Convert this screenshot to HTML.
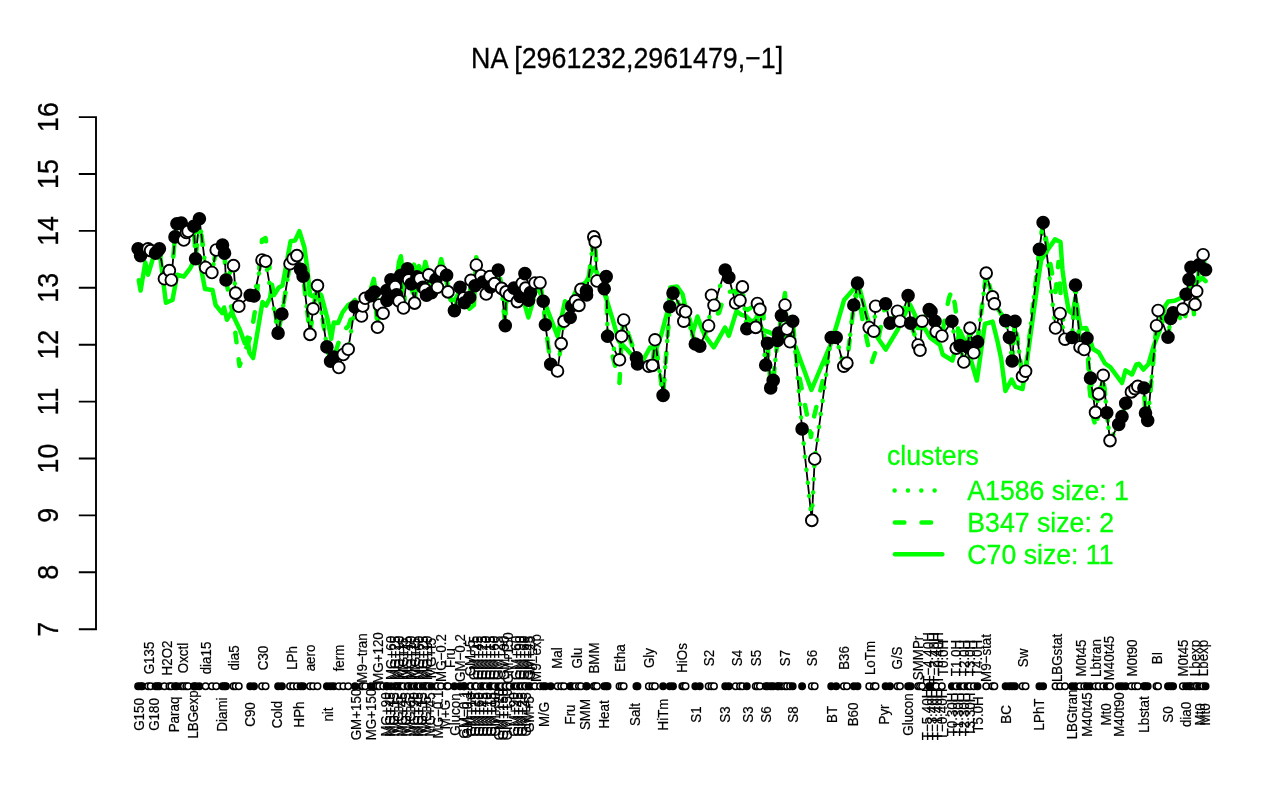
<!DOCTYPE html>
<html><head><meta charset="utf-8"><title>NA [2961232,2961479,-1]</title>
<style>html,body{margin:0;padding:0;background:#fff;}svg{display:block;}text{font-family:"Liberation Sans",sans-serif;}.m{font-size:28.9px;stroke:#000;stroke-width:0.3px;}.l{font-size:28.2px;stroke:#00ff00;stroke-width:0.3px;}.x{font-size:14.4px;stroke:#000;stroke-width:0.2px;}.g{fill:none;stroke:#00ff00;stroke-width:4.5;stroke-linecap:round;stroke-linejoin:round;}.p circle{stroke:#000;stroke-width:1.9;}.r circle{stroke:#000;stroke-width:1.5;}.o{fill:#fff;}.f{fill:#000;}</style></head><body>
<svg style="will-change:transform" width="1280" height="800" viewBox="0 0 1280 800">
<rect width="1280" height="800" fill="#fff"/>
<text class="m" transform="translate(627.1 67.7) scale(0.927 1)" text-anchor="middle">NA [2961232,2961479,−1]</text>
<g stroke="#000" stroke-width="1.9" fill="none" stroke-linecap="butt">
<path d="M96 116.2L96 630.2M78.8 629.2L96 629.2M78.8 572.3L96 572.3M78.8 515.4L96 515.4M78.8 458.5L96 458.5M78.8 401.6L96 401.6M78.8 344.7L96 344.7M78.8 287.8L96 287.8M78.8 230.9L96 230.9M78.8 174L96 174M78.8 117.1L96 117.1"/>
</g>
<text class="m" transform="translate(58.4 629.2) rotate(-90) scale(0.927 1)" text-anchor="middle">7</text>
<text class="m" transform="translate(58.4 572.3) rotate(-90) scale(0.927 1)" text-anchor="middle">8</text>
<text class="m" transform="translate(58.4 515.4) rotate(-90) scale(0.927 1)" text-anchor="middle">9</text>
<text class="m" transform="translate(58.4 458.5) rotate(-90) scale(0.927 1)" text-anchor="middle">10</text>
<text class="m" transform="translate(58.4 401.6) rotate(-90) scale(0.927 1)" text-anchor="middle">11</text>
<text class="m" transform="translate(58.4 344.7) rotate(-90) scale(0.927 1)" text-anchor="middle">12</text>
<text class="m" transform="translate(58.4 287.8) rotate(-90) scale(0.927 1)" text-anchor="middle">13</text>
<text class="m" transform="translate(58.4 230.9) rotate(-90) scale(0.927 1)" text-anchor="middle">14</text>
<text class="m" transform="translate(58.4 174) rotate(-90) scale(0.927 1)" text-anchor="middle">15</text>
<text class="m" transform="translate(58.4 117.1) rotate(-90) scale(0.927 1)" text-anchor="middle">16</text>
<path class="g" d="M138.8 280.3L140.6 290.6L145.3 262.5L148.1 274.7L152.8 258.8L157 250L160.3 256.9L165.9 302.8L172.5 300L177.2 274.7L183.8 276.6L190.3 268.1L195 258.8L198.5 259L201 268L205 289L212.5 290L215.6 305L222.2 313.1L224.1 307.5L226.9 319.7L231.6 312.2L240 330L244.7 343.1L247.5 337.5L249.4 352.5L253.1 358.1L262.5 302L266.2 305.6L270 298L272 285L274 295L278.8 287.5L282.5 285.6L290.6 241.2L295 240.6L299.4 231.2L304.4 247.5L307.5 270L310 295L312.5 296.2L317.5 292.5L321.2 295L327.5 318.8L331.2 338.8L333.8 322.5L338.1 323.1L342.5 312.5L348.1 305L352 303L355 300L358 306L362 312L366 300L370 292L373.8 278.8L377 300L380 305L384 300L388 290L392 280L396 285L399 262L400.9 256.2L404 285L408 275L411 270L414 264.7L416.5 272L419 266L422 280L425.3 261.9L428 272L432 285L436 280L441.2 259.1L445 275L450.6 299.4L455 300L460 290L465 300L469.4 308.8L474 305L476.3 257.2L480 275L485 285L490 280L495 285L500.3 278.8L505 305L510 295L515 290L520 298L524 302L528.4 317.5L532.5 303L536 285L543.8 300L557.5 336.2L565 301.2L570 305L576.2 290L586 282L592.5 270L595 267.5L606.2 298.5L612.5 318.8L618.8 341.2L627.5 350L631.9 355L637 360L643.8 358.8L650 347.5L656.2 348.8L661.2 335L666.2 316.2L668.8 307.5L670.2 287.5L677 286.4L682.6 294.2L687 315L690 320L692.5 334L697.4 316.5L702.7 331L706.2 337.5L713.8 347.3L720.9 334.8L725 327.5L728.8 335.8L736.5 311.2L741.5 314.8L746 316L752 322L757 318L762.5 330L770 332.5L778 338L787 335L796 347.9L811.4 390L831 343.5L837.5 322.5L844.1 299.9L854.2 288.6L857.6 283L860 290L867 317L872.2 330.2L877.5 337.5L885.7 349.6L897.5 330L906.1 311.5L910.2 305L915 315L917.5 328L924.5 328L930.5 338L940 345L942.7 354.5L952.4 360.5L960 331L966.8 346L976.9 380.5L984.9 324L992.6 321.6L997.5 341.2L1001.2 358.8L1005.4 391L1011.6 379.6L1015.5 386.8L1022.5 389L1027.2 359L1037.4 285L1041.2 260L1045.5 253L1055 239.4L1060.5 242L1062.5 270L1065.3 291L1068.8 311L1072.5 313.8L1075.4 298L1080.5 328.5L1086.2 328L1093 349L1098.8 352.5L1105 363.5L1110.3 367.2L1122 383L1125.5 370.3L1132 374.5L1136.4 364.5L1138.8 363.8L1143.5 369.5L1148.5 364L1154 345L1159.6 331L1165 306.3L1168.2 301.5L1174.7 300.7L1183 297L1191 286.9L1199.1 280.4L1202.3 277.9L1205.6 281.2"/>
<path class="g" stroke-width="4" stroke-dasharray="9.6 17.1" d="M138.1 248.8L140.6 255.6L142.3 252L148.1 248.8L150.6 250.6L155.6 253.1L157.5 251L159.4 248.8L164.4 278.8L169.4 270.6L171.3 280L175 236.9L176.9 223.8L181.3 223.1L183.8 240L186.3 232.5L188.1 231.3L193.8 226.3L195.6 258.8L199.4 218.8L205.6 267.5L211.9 272.5L216.2 250L222.5 245L224.5 253.1L226 280L233.5 318L239.5 366L251 335L256 305L262 240L265.6 238L278.1 333.1L281.9 314L290 263.8L293.1 258.8L296.9 255.6L300.6 269.4L303.1 276.3L310 334.4L313.1 308.8L317.5 285.6L326.9 346.9L330.6 361.3L333.8 357L338.8 342L343 331L348.5 326L355 306.9L361.5 316L362.8 306L365.2 298.3L371 295.6L374.6 292L377.5 327.3L379.2 305L383.1 313.3L386.7 290.6L386.9 300.4L390.9 279.8L395.2 286.6L396.6 294.8L399 301L400.6 275.5L403.5 308L407.5 268.8L408.6 279.8L411.2 284L414.6 303.1L416.9 276.9L420 278.8L422.8 287.3L425.2 289.5L426.5 295.3L428.7 274.8L431.5 292.6L436 279.2L437.5 287.3L441 271.2L446.6 275.3L448 291.9L454.4 310.6L460 287.3L463.8 297.8L464.4 302.8L469.7 297.5L471 280.3L475 285.8L476.3 265L481 275.7L483 282L486.2 294L490 276.6L490.6 286.9L494.5 283.6L498.2 270.1L501.6 288.4L505.3 325.6L506 291.9L509.5 295.3L514 288.1L517.3 301.6L520 296.4L522.2 283.2L524.9 273.6L525.6 288.1L528.6 300.1L530.5 292.6L535 283L540 282.7L543.2 301.2L545.4 324.8L550.7 364.2L557.5 371L561.2 343.6L564 321.3L570.2 317.5L571.7 306L575.5 300.9L578.9 305.4L581 289.3L586.4 290.8L586.6 295L593.8 236.9L595.2 241.9L597 281L604.2 288.7L606.2 276.6L607.6 336.3L619.5 383L621.6 336.3L623.7 320L636.4 357.7L637.5 363.9L648.8 366.3L652.4 365.4L655 339.8L663.1 395.4L669.8 306.8L673 293.1L682.3 310.3L683.8 321.2L685.6 311.8L695.3 344L699.8 346.1L708.6 325.7L714 315L719 313L723 300L727 292L735 291L741 300L747.5 310L752 307L758 300L763 305L765.7 365L767.5 343.2L770.7 387.9L773.2 380.4L777.5 340.5L778.6 333L781.4 315.6L785 293L787 329L790 341.8L792.7 321.2L797 365L804 400L808 420L811 437L813.5 419L820 392L826 367L831.2 337.5L836.2 337.5L843.8 366.2L846.9 363.1L853.8 305L857.5 290L863 322L868 345L872 362L876 350L885.6 303.8L890 323.1L897.5 311.2L900 321.2L908.1 295.6L910.6 323.1L918.1 345L920 350.3L922.1 321.2L929.2 309.6L931 311.4L935 321.2L936.2 331.6L941.9 336L946 312L949 298L952 290L955 305L960 345.6L963.8 362L967.5 347L970 328.1L973.8 352.8L977.5 341.9L986.2 273.1L992.5 296.9L994.4 303.8L1005.6 320.6L1009.4 337.5L1012.2 361L1015 321.2L1022.5 376.2L1025.6 371.2L1039.4 249.4L1043.1 222.5L1050 262L1055.5 292L1058.5 262L1061 300L1065 337L1072 337.5L1075.5 285.1L1080 347L1084.2 349.5L1087 338.2L1089.5 388L1091 402L1093.5 419L1096.5 429L1099 405L1103.2 375.3L1106.8 412.8L1110 440.6L1118.7 424.4L1122 416.6L1125.7 403.2L1131.4 391.9L1135 388.7L1137.8 386.3L1143.9 388L1145.5 413L1147.7 420.5L1156.5 325.7L1158.1 310.5L1168 337.2L1170.7 318.5L1173.1 312.8L1178 316L1181 319L1184 325L1188 298L1191 284L1194.5 319L1197 296L1199.1 264.9L1203.1 254.7L1205.6 269.8"/>
<path fill="none" stroke="#000" stroke-width="1.8" stroke-linejoin="round" d="M138.1 248.8L140.6 255.6L142.3 252L148.1 248.8L150.6 250.6L155.6 253.1L157.5 251L159.4 248.8L164.4 278.8L169.4 270.6L171.3 280L175 236.9L176.9 223.8L181.3 223.1L183.8 240L186.3 232.5L188.1 231.3L193.8 226.3L195.6 258.8L199.4 218.8L205.6 267.5L211.9 272.5L216.2 250L222.5 245L224.5 253.1L226 280L233.5 265.6L235.6 293.1L238.8 306.3L250.2 295.3L254 296L262 260L265.6 261.3L278.1 333.1L281.9 314L290 263.8L293.1 258.8L296.9 255.6L300.6 269.4L303.1 276.3L310 334.4L313.1 308.8L317.5 285.6L326.9 346.9L330.6 361.3L333.8 357L338.8 367.5L343.3 354.5L348.2 349.3L355 306.9L361.5 316L362.8 306L365.2 298.3L371 295.6L374.6 292L377.5 327.3L379.2 305L383.1 313.3L386.7 290.6L386.9 300.4L390.9 279.8L395.2 286.6L396.6 294.8L399 301L400.6 275.5L403.5 308L407.5 268.8L408.6 279.8L411.2 284L414.6 303.1L416.9 276.9L420 278.8L422.8 287.3L425.2 289.5L426.5 295.3L428.7 274.8L431.5 292.6L436 279.2L437.5 287.3L441 271.2L446.6 275.3L448 291.9L454.4 310.6L460 287.3L463.8 297.8L464.4 302.8L469.7 297.5L471 280.3L475 285.8L476.3 265L481 275.7L483 282L486.2 294L490 276.6L490.6 286.9L494.5 283.6L498.2 270.1L501.6 288.4L505.3 325.6L506 291.9L509.5 295.3L514 288.1L517.3 301.6L520 296.4L522.2 283.2L524.9 273.6L525.6 288.1L528.6 300.1L530.5 292.6L535 283L540 282.7L543.2 301.2L545.4 324.8L550.7 364.2L557.5 371L561.2 343.6L564 321.3L570.2 317.5L571.7 306L575.5 300.9L578.9 305.4L581 289.3L586.4 290.8L586.6 295L593.8 236.9L595.2 241.9L597 281L604.2 288.7L606.2 276.6L607.6 336.3L619.5 359.8L621.6 336.3L623.7 320L636.4 357.7L637.5 363.9L648.8 366.3L652.4 365.4L655 339.8L663.1 395.4L669.8 306.8L673 293.1L682.3 310.3L683.8 321.2L685.6 311.8L695.3 344L699.8 346.1L708.6 325.7L711.5 295.2L714 305.2L725.2 270L728.8 277.4L735.6 303L740 300.5L742.4 286.9L746.8 328.7L755.7 327.4L757.4 303.5L759.9 309.4L765.7 365L767.5 343.2L770.7 387.9L773.2 380.4L777.5 340.5L778.6 333L781.4 315.6L785 305L787 329L790 341.8L792.7 321.2L802.1 428.9L811.8 520.4L814.7 459L831.2 337.5L836.2 337.5L843.8 366.2L846.9 363.1L853.8 305L857.5 283.1L869.2 327.5L873.8 331.2L875.6 306.2L885.6 303.8L890 323.1L897.5 311.2L900 321.2L908.1 295.6L910.6 323.1L918.1 345L920 350.3L922.1 321.2L929.2 309.6L931 311.4L935 321.2L936.2 331.6L941.9 336L951.9 321.2L956.2 348.1L960 345.6L963.8 362L967.5 347L970 328.1L973.8 352.8L977.5 341.9L986.2 273.1L992.5 296.9L994.4 303.8L1005.6 320.6L1009.4 337.5L1012.2 361L1015 321.2L1022.5 376.2L1025.6 371.2L1039.4 249.4L1043.1 222.5L1055.5 328L1060.1 313.5L1065 339.2L1072 337.5L1075.5 285.1L1080 347L1084.2 349.5L1087 338.2L1090.5 378.1L1095.5 412.4L1098.6 393.9L1103.2 375.3L1106.8 412.8L1110 440.6L1118.7 424.4L1122 416.6L1125.7 403.2L1131.4 391.9L1135 388.7L1137.8 386.3L1143.9 388L1145.5 413L1147.7 420.5L1156.5 325.7L1158.1 310.5L1168 337.2L1170.7 318.5L1173.1 312.8L1182.8 309.1L1186.1 294.2L1189 279.5L1191 267.4L1195 304.4L1196.7 291.2L1199.1 264.9L1203.1 254.7L1205.6 269.8"/>
<path class="g" stroke-width="4.2" stroke-dasharray="0.01 13.15" d="M138.1 248.8L140.6 255.6L142.3 252L148.1 248.8L150.6 250.6L155.6 253.1L157.5 251L159.4 248.8L164.4 278.8L169.4 270.6L171.3 280L175 236.9L176.9 223.8L181.3 223.1L183.8 240L186.3 232.5L188.1 231.3L193.8 226.3L195.6 258.8L199.4 218.8L205.6 267.5L211.9 272.5L216.2 250L222.5 245L224.5 253.1L226 280L233.5 265.6L235.6 293.1L238.8 306.3L250.2 295.3L254 296L262 260L265.6 261.3L278.1 333.1L281.9 314L290 263.8L293.1 258.8L296.9 255.6L300.6 269.4L303.1 276.3L310 334.4L313.1 308.8L317.5 285.6L326.9 346.9L330.6 361.3L333.8 357L338.8 367.5L343.3 354.5L348.2 349.3L355 306.9L361.5 316L362.8 306L365.2 298.3L371 295.6L374.6 292L377.5 327.3L379.2 305L383.1 313.3L386.7 290.6L386.9 300.4L390.9 279.8L395.2 286.6L396.6 294.8L399 301L400.6 275.5L403.5 308L407.5 268.8L408.6 279.8L411.2 284L414.6 303.1L416.9 276.9L420 278.8L422.8 287.3L425.2 289.5L426.5 295.3L428.7 274.8L431.5 292.6L436 279.2L437.5 287.3L441 271.2L446.6 275.3L448 291.9L454.4 310.6L460 287.3L463.8 297.8L464.4 302.8L469.7 297.5L471 280.3L475 285.8L476.3 265L481 275.7L483 282L486.2 294L490 276.6L490.6 286.9L494.5 283.6L498.2 270.1L501.6 288.4L505.3 325.6L506 291.9L509.5 295.3L514 288.1L517.3 301.6L520 296.4L522.2 283.2L524.9 273.6L525.6 288.1L528.6 300.1L530.5 292.6L535 283L540 282.7L543.2 301.2L545.4 324.8L550.7 364.2L557.5 371L561.2 343.6L564 321.3L570.2 317.5L571.7 306L575.5 300.9L578.9 305.4L581 289.3L586.4 290.8L586.6 295L593.8 236.9L595.2 241.9L597 281L604.2 288.7L606.2 276.6L607.6 336.3L619.5 359.8L621.6 336.3L623.7 320L636.4 357.7L637.5 363.9L648.8 366.3L652.4 365.4L655 339.8L663.1 395.4L669.8 306.8L673 293.1L682.3 310.3L683.8 321.2L685.6 311.8L695.3 344L699.8 346.1L708.6 325.7L711.5 295.2L714 305.2L725.2 270L728.8 277.4L735.6 303L740 300.5L742.4 286.9L746.8 328.7L755.7 327.4L757.4 303.5L759.9 309.4L765.7 365L767.5 343.2L770.7 387.9L773.2 380.4L777.5 340.5L778.6 333L781.4 315.6L785 305L787 329L790 341.8L792.7 321.2L802.1 428.9L811.8 520.4L814.7 459L831.2 337.5L836.2 337.5L843.8 366.2L846.9 363.1L853.8 305L857.5 283.1L869.2 327.5L873.8 331.2L875.6 306.2L885.6 303.8L890 323.1L897.5 311.2L900 321.2L908.1 295.6L910.6 323.1L918.1 345L920 350.3L922.1 321.2L929.2 309.6L931 311.4L935 321.2L936.2 331.6L941.9 336L951.9 321.2L956.2 348.1L960 345.6L963.8 362L967.5 347L970 328.1L973.8 352.8L977.5 341.9L986.2 273.1L992.5 296.9L994.4 303.8L1005.6 320.6L1009.4 337.5L1012.2 361L1015 321.2L1022.5 376.2L1025.6 371.2L1039.4 249.4L1043.1 222.5L1055.5 328L1060.1 313.5L1065 339.2L1072 337.5L1075.5 285.1L1080 347L1084.2 349.5L1087 338.2L1090.5 378.1L1095.5 412.4L1098.6 393.9L1103.2 375.3L1106.8 412.8L1110 440.6L1118.7 424.4L1122 416.6L1125.7 403.2L1131.4 391.9L1135 388.7L1137.8 386.3L1143.9 388L1145.5 413L1147.7 420.5L1156.5 325.7L1158.1 310.5L1168 337.2L1170.7 318.5L1173.1 312.8L1182.8 309.1L1186.1 294.2L1189 279.5L1191 267.4L1195 304.4L1196.7 291.2L1199.1 264.9L1203.1 254.7L1205.6 269.8"/>
<g class="p">
<circle class="f" cx="138.1" cy="248.8" r="5.85"/>
<circle class="f" cx="140.6" cy="255.6" r="5.85"/>
<circle class="f" cx="142.3" cy="252" r="5.85"/>
<circle class="o" cx="148.1" cy="248.8" r="5.85"/>
<circle class="o" cx="150.6" cy="250.6" r="5.85"/>
<circle class="f" cx="155.6" cy="253.1" r="5.85"/>
<circle class="f" cx="157.5" cy="251" r="5.85"/>
<circle class="f" cx="159.4" cy="248.8" r="5.85"/>
<circle class="o" cx="164.4" cy="278.8" r="5.85"/>
<circle class="o" cx="169.4" cy="270.6" r="5.85"/>
<circle class="o" cx="171.3" cy="280" r="5.85"/>
<circle class="f" cx="175" cy="236.9" r="5.85"/>
<circle class="f" cx="176.9" cy="223.8" r="5.85"/>
<circle class="f" cx="181.3" cy="223.1" r="5.85"/>
<circle class="o" cx="183.8" cy="240" r="5.85"/>
<circle class="o" cx="186.3" cy="232.5" r="5.85"/>
<circle class="o" cx="188.1" cy="231.3" r="5.85"/>
<circle class="f" cx="193.8" cy="226.3" r="5.85"/>
<circle class="f" cx="195.6" cy="258.8" r="5.85"/>
<circle class="f" cx="199.4" cy="218.8" r="5.85"/>
<circle class="o" cx="205.6" cy="267.5" r="5.85"/>
<circle class="o" cx="211.9" cy="272.5" r="5.85"/>
<circle class="o" cx="216.2" cy="250" r="5.85"/>
<circle class="f" cx="222.5" cy="245" r="5.85"/>
<circle class="f" cx="224.5" cy="253.1" r="5.85"/>
<circle class="f" cx="226" cy="280" r="5.85"/>
<circle class="o" cx="233.5" cy="265.6" r="5.85"/>
<circle class="o" cx="235.6" cy="293.1" r="5.85"/>
<circle class="o" cx="238.8" cy="306.3" r="5.85"/>
<circle class="f" cx="250.2" cy="295.3" r="5.85"/>
<circle class="f" cx="254" cy="296" r="5.85"/>
<circle class="o" cx="262" cy="260" r="5.85"/>
<circle class="o" cx="265.6" cy="261.3" r="5.85"/>
<circle class="f" cx="278.1" cy="333.1" r="5.85"/>
<circle class="f" cx="281.9" cy="314" r="5.85"/>
<circle class="o" cx="290" cy="263.8" r="5.85"/>
<circle class="o" cx="293.1" cy="258.8" r="5.85"/>
<circle class="o" cx="296.9" cy="255.6" r="5.85"/>
<circle class="f" cx="300.6" cy="269.4" r="5.85"/>
<circle class="f" cx="303.1" cy="276.3" r="5.85"/>
<circle class="o" cx="310" cy="334.4" r="5.85"/>
<circle class="o" cx="313.1" cy="308.8" r="5.85"/>
<circle class="o" cx="317.5" cy="285.6" r="5.85"/>
<circle class="f" cx="326.9" cy="346.9" r="5.85"/>
<circle class="f" cx="330.6" cy="361.3" r="5.85"/>
<circle class="f" cx="333.8" cy="357" r="5.85"/>
<circle class="o" cx="338.8" cy="367.5" r="5.85"/>
<circle class="o" cx="343.3" cy="354.5" r="5.85"/>
<circle class="o" cx="348.2" cy="349.3" r="5.85"/>
<circle class="f" cx="355" cy="306.9" r="5.85"/>
<circle class="o" cx="361.5" cy="316" r="5.85"/>
<circle class="o" cx="362.8" cy="306" r="5.85"/>
<circle class="o" cx="365.2" cy="298.3" r="5.85"/>
<circle class="f" cx="371" cy="295.6" r="5.85"/>
<circle class="f" cx="374.6" cy="292" r="5.85"/>
<circle class="o" cx="377.5" cy="327.3" r="5.85"/>
<circle class="o" cx="379.2" cy="305" r="5.85"/>
<circle class="o" cx="383.1" cy="313.3" r="5.85"/>
<circle class="f" cx="386.7" cy="290.6" r="5.85"/>
<circle class="f" cx="386.9" cy="300.4" r="5.85"/>
<circle class="f" cx="390.9" cy="279.8" r="5.85"/>
<circle class="o" cx="395.2" cy="286.6" r="5.85"/>
<circle class="f" cx="396.6" cy="294.8" r="5.85"/>
<circle class="o" cx="399" cy="301" r="5.85"/>
<circle class="f" cx="400.6" cy="275.5" r="5.85"/>
<circle class="o" cx="403.5" cy="308" r="5.85"/>
<circle class="f" cx="407.5" cy="268.8" r="5.85"/>
<circle class="o" cx="408.6" cy="279.8" r="5.85"/>
<circle class="f" cx="411.2" cy="284" r="5.85"/>
<circle class="o" cx="414.6" cy="303.1" r="5.85"/>
<circle class="f" cx="416.9" cy="276.9" r="5.85"/>
<circle class="o" cx="420" cy="278.8" r="5.85"/>
<circle class="f" cx="422.8" cy="287.3" r="5.85"/>
<circle class="o" cx="425.2" cy="289.5" r="5.85"/>
<circle class="f" cx="426.5" cy="295.3" r="5.85"/>
<circle class="o" cx="428.7" cy="274.8" r="5.85"/>
<circle class="f" cx="431.5" cy="292.6" r="5.85"/>
<circle class="f" cx="436" cy="279.2" r="5.85"/>
<circle class="o" cx="437.5" cy="287.3" r="5.85"/>
<circle class="o" cx="441" cy="271.2" r="5.85"/>
<circle class="f" cx="446.6" cy="275.3" r="5.85"/>
<circle class="o" cx="448" cy="291.9" r="5.85"/>
<circle class="f" cx="454.4" cy="310.6" r="5.85"/>
<circle class="f" cx="460" cy="287.3" r="5.85"/>
<circle class="o" cx="463.8" cy="297.8" r="5.85"/>
<circle class="f" cx="464.4" cy="302.8" r="5.85"/>
<circle class="f" cx="469.7" cy="297.5" r="5.85"/>
<circle class="o" cx="471" cy="280.3" r="5.85"/>
<circle class="f" cx="475" cy="285.8" r="5.85"/>
<circle class="o" cx="476.3" cy="265" r="5.85"/>
<circle class="o" cx="481" cy="275.7" r="5.85"/>
<circle class="f" cx="483" cy="282" r="5.85"/>
<circle class="o" cx="486.2" cy="294" r="5.85"/>
<circle class="o" cx="490" cy="276.6" r="5.85"/>
<circle class="f" cx="490.6" cy="286.9" r="5.85"/>
<circle class="o" cx="494.5" cy="283.6" r="5.85"/>
<circle class="f" cx="498.2" cy="270.1" r="5.85"/>
<circle class="o" cx="501.6" cy="288.4" r="5.85"/>
<circle class="f" cx="505.3" cy="325.6" r="5.85"/>
<circle class="o" cx="506" cy="291.9" r="5.85"/>
<circle class="o" cx="509.5" cy="295.3" r="5.85"/>
<circle class="f" cx="514" cy="288.1" r="5.85"/>
<circle class="o" cx="517.3" cy="301.6" r="5.85"/>
<circle class="f" cx="520" cy="296.4" r="5.85"/>
<circle class="o" cx="522.2" cy="283.2" r="5.85"/>
<circle class="f" cx="524.9" cy="273.6" r="5.85"/>
<circle class="o" cx="525.6" cy="288.1" r="5.85"/>
<circle class="f" cx="528.6" cy="300.1" r="5.85"/>
<circle class="f" cx="530.5" cy="292.6" r="5.85"/>
<circle class="o" cx="535" cy="283" r="5.85"/>
<circle class="o" cx="540" cy="282.7" r="5.85"/>
<circle class="f" cx="543.2" cy="301.2" r="5.85"/>
<circle class="f" cx="545.4" cy="324.8" r="5.85"/>
<circle class="f" cx="550.7" cy="364.2" r="5.85"/>
<circle class="o" cx="557.5" cy="371" r="5.85"/>
<circle class="o" cx="561.2" cy="343.6" r="5.85"/>
<circle class="o" cx="564" cy="321.3" r="5.85"/>
<circle class="f" cx="570.2" cy="317.5" r="5.85"/>
<circle class="f" cx="571.7" cy="306" r="5.85"/>
<circle class="o" cx="575.5" cy="300.9" r="5.85"/>
<circle class="o" cx="578.9" cy="305.4" r="5.85"/>
<circle class="o" cx="581" cy="289.3" r="5.85"/>
<circle class="f" cx="586.4" cy="290.8" r="5.85"/>
<circle class="f" cx="586.6" cy="295" r="5.85"/>
<circle class="o" cx="593.8" cy="236.9" r="5.85"/>
<circle class="o" cx="595.2" cy="241.9" r="5.85"/>
<circle class="o" cx="597" cy="281" r="5.85"/>
<circle class="f" cx="604.2" cy="288.7" r="5.85"/>
<circle class="f" cx="606.2" cy="276.6" r="5.85"/>
<circle class="f" cx="607.6" cy="336.3" r="5.85"/>
<circle class="o" cx="619.5" cy="359.8" r="5.85"/>
<circle class="o" cx="621.6" cy="336.3" r="5.85"/>
<circle class="o" cx="623.7" cy="320" r="5.85"/>
<circle class="f" cx="636.4" cy="357.7" r="5.85"/>
<circle class="f" cx="637.5" cy="363.9" r="5.85"/>
<circle class="o" cx="648.8" cy="366.3" r="5.85"/>
<circle class="o" cx="652.4" cy="365.4" r="5.85"/>
<circle class="o" cx="655" cy="339.8" r="5.85"/>
<circle class="f" cx="663.1" cy="395.4" r="5.85"/>
<circle class="f" cx="669.8" cy="306.8" r="5.85"/>
<circle class="f" cx="673" cy="293.1" r="5.85"/>
<circle class="o" cx="682.3" cy="310.3" r="5.85"/>
<circle class="o" cx="683.8" cy="321.2" r="5.85"/>
<circle class="o" cx="685.6" cy="311.8" r="5.85"/>
<circle class="f" cx="695.3" cy="344" r="5.85"/>
<circle class="f" cx="699.8" cy="346.1" r="5.85"/>
<circle class="o" cx="708.6" cy="325.7" r="5.85"/>
<circle class="o" cx="711.5" cy="295.2" r="5.85"/>
<circle class="o" cx="714" cy="305.2" r="5.85"/>
<circle class="f" cx="725.2" cy="270" r="5.85"/>
<circle class="f" cx="728.8" cy="277.4" r="5.85"/>
<circle class="o" cx="735.6" cy="303" r="5.85"/>
<circle class="o" cx="740" cy="300.5" r="5.85"/>
<circle class="o" cx="742.4" cy="286.9" r="5.85"/>
<circle class="f" cx="746.8" cy="328.7" r="5.85"/>
<circle class="o" cx="755.7" cy="327.4" r="5.85"/>
<circle class="o" cx="757.4" cy="303.5" r="5.85"/>
<circle class="o" cx="759.9" cy="309.4" r="5.85"/>
<circle class="f" cx="765.7" cy="365" r="5.85"/>
<circle class="f" cx="767.5" cy="343.2" r="5.85"/>
<circle class="f" cx="770.7" cy="387.9" r="5.85"/>
<circle class="f" cx="773.2" cy="380.4" r="5.85"/>
<circle class="f" cx="777.5" cy="340.5" r="5.85"/>
<circle class="f" cx="778.6" cy="333" r="5.85"/>
<circle class="f" cx="781.4" cy="315.6" r="5.85"/>
<circle class="o" cx="785" cy="305" r="5.85"/>
<circle class="o" cx="787" cy="329" r="5.85"/>
<circle class="o" cx="790" cy="341.8" r="5.85"/>
<circle class="f" cx="792.7" cy="321.2" r="5.85"/>
<circle class="f" cx="802.1" cy="428.9" r="5.85"/>
<circle class="o" cx="811.8" cy="520.4" r="5.85"/>
<circle class="o" cx="814.7" cy="459" r="5.85"/>
<circle class="f" cx="831.2" cy="337.5" r="5.85"/>
<circle class="f" cx="836.2" cy="337.5" r="5.85"/>
<circle class="o" cx="843.8" cy="366.2" r="5.85"/>
<circle class="o" cx="846.9" cy="363.1" r="5.85"/>
<circle class="f" cx="853.8" cy="305" r="5.85"/>
<circle class="f" cx="857.5" cy="283.1" r="5.85"/>
<circle class="o" cx="869.2" cy="327.5" r="5.85"/>
<circle class="o" cx="873.8" cy="331.2" r="5.85"/>
<circle class="o" cx="875.6" cy="306.2" r="5.85"/>
<circle class="f" cx="885.6" cy="303.8" r="5.85"/>
<circle class="f" cx="890" cy="323.1" r="5.85"/>
<circle class="o" cx="897.5" cy="311.2" r="5.85"/>
<circle class="o" cx="900" cy="321.2" r="5.85"/>
<circle class="f" cx="908.1" cy="295.6" r="5.85"/>
<circle class="f" cx="910.6" cy="323.1" r="5.85"/>
<circle class="o" cx="918.1" cy="345" r="5.85"/>
<circle class="o" cx="920" cy="350.3" r="5.85"/>
<circle class="o" cx="922.1" cy="321.2" r="5.85"/>
<circle class="f" cx="929.2" cy="309.6" r="5.85"/>
<circle class="f" cx="931" cy="311.4" r="5.85"/>
<circle class="f" cx="935" cy="321.2" r="5.85"/>
<circle class="o" cx="936.2" cy="331.6" r="5.85"/>
<circle class="o" cx="941.9" cy="336" r="5.85"/>
<circle class="f" cx="951.9" cy="321.2" r="5.85"/>
<circle class="o" cx="956.2" cy="348.1" r="5.85"/>
<circle class="f" cx="960" cy="345.6" r="5.85"/>
<circle class="o" cx="963.8" cy="362" r="5.85"/>
<circle class="f" cx="967.5" cy="347" r="5.85"/>
<circle class="o" cx="970" cy="328.1" r="5.85"/>
<circle class="o" cx="973.8" cy="352.8" r="5.85"/>
<circle class="f" cx="977.5" cy="341.9" r="5.85"/>
<circle class="o" cx="986.2" cy="273.1" r="5.85"/>
<circle class="o" cx="992.5" cy="296.9" r="5.85"/>
<circle class="o" cx="994.4" cy="303.8" r="5.85"/>
<circle class="f" cx="1005.6" cy="320.6" r="5.85"/>
<circle class="f" cx="1009.4" cy="337.5" r="5.85"/>
<circle class="f" cx="1012.2" cy="361" r="5.85"/>
<circle class="f" cx="1015" cy="321.2" r="5.85"/>
<circle class="o" cx="1022.5" cy="376.2" r="5.85"/>
<circle class="o" cx="1025.6" cy="371.2" r="5.85"/>
<circle class="f" cx="1039.4" cy="249.4" r="5.85"/>
<circle class="f" cx="1043.1" cy="222.5" r="5.85"/>
<circle class="o" cx="1055.5" cy="328" r="5.85"/>
<circle class="o" cx="1060.1" cy="313.5" r="5.85"/>
<circle class="o" cx="1065" cy="339.2" r="5.85"/>
<circle class="f" cx="1072" cy="337.5" r="5.85"/>
<circle class="f" cx="1075.5" cy="285.1" r="5.85"/>
<circle class="o" cx="1080" cy="347" r="5.85"/>
<circle class="o" cx="1084.2" cy="349.5" r="5.85"/>
<circle class="f" cx="1087" cy="338.2" r="5.85"/>
<circle class="f" cx="1090.5" cy="378.1" r="5.85"/>
<circle class="o" cx="1095.5" cy="412.4" r="5.85"/>
<circle class="o" cx="1098.6" cy="393.9" r="5.85"/>
<circle class="o" cx="1103.2" cy="375.3" r="5.85"/>
<circle class="f" cx="1106.8" cy="412.8" r="5.85"/>
<circle class="o" cx="1110" cy="440.6" r="5.85"/>
<circle class="f" cx="1118.7" cy="424.4" r="5.85"/>
<circle class="f" cx="1122" cy="416.6" r="5.85"/>
<circle class="f" cx="1125.7" cy="403.2" r="5.85"/>
<circle class="o" cx="1131.4" cy="391.9" r="5.85"/>
<circle class="o" cx="1135" cy="388.7" r="5.85"/>
<circle class="o" cx="1137.8" cy="386.3" r="5.85"/>
<circle class="f" cx="1143.9" cy="388" r="5.85"/>
<circle class="f" cx="1145.5" cy="413" r="5.85"/>
<circle class="f" cx="1147.7" cy="420.5" r="5.85"/>
<circle class="o" cx="1156.5" cy="325.7" r="5.85"/>
<circle class="o" cx="1158.1" cy="310.5" r="5.85"/>
<circle class="f" cx="1168" cy="337.2" r="5.85"/>
<circle class="f" cx="1170.7" cy="318.5" r="5.85"/>
<circle class="f" cx="1173.1" cy="312.8" r="5.85"/>
<circle class="o" cx="1182.8" cy="309.1" r="5.85"/>
<circle class="f" cx="1186.1" cy="294.2" r="5.85"/>
<circle class="f" cx="1189" cy="279.5" r="5.85"/>
<circle class="f" cx="1191" cy="267.4" r="5.85"/>
<circle class="o" cx="1195" cy="304.4" r="5.85"/>
<circle class="o" cx="1196.7" cy="291.2" r="5.85"/>
<circle class="f" cx="1199.1" cy="264.9" r="5.85"/>
<circle class="o" cx="1203.1" cy="254.7" r="5.85"/>
<circle class="f" cx="1205.6" cy="269.8" r="5.85"/>
</g>
<g class="r">
<circle class="f" cx="138.1" cy="686.3" r="3.2"/>
<circle class="f" cx="140.6" cy="686.3" r="3.2"/>
<circle class="f" cx="142.3" cy="686.3" r="3.2"/>
<circle class="o" cx="148.1" cy="686.3" r="3.2"/>
<circle class="o" cx="150.6" cy="686.3" r="3.2"/>
<circle class="f" cx="155.6" cy="686.3" r="3.2"/>
<circle class="f" cx="157.5" cy="686.3" r="3.2"/>
<circle class="f" cx="159.4" cy="686.3" r="3.2"/>
<circle class="o" cx="164.4" cy="686.3" r="3.2"/>
<circle class="o" cx="169.4" cy="686.3" r="3.2"/>
<circle class="o" cx="171.3" cy="686.3" r="3.2"/>
<circle class="f" cx="175" cy="686.3" r="3.2"/>
<circle class="f" cx="176.9" cy="686.3" r="3.2"/>
<circle class="f" cx="181.3" cy="686.3" r="3.2"/>
<circle class="o" cx="183.8" cy="686.3" r="3.2"/>
<circle class="o" cx="186.3" cy="686.3" r="3.2"/>
<circle class="o" cx="188.1" cy="686.3" r="3.2"/>
<circle class="f" cx="193.8" cy="686.3" r="3.2"/>
<circle class="f" cx="195.6" cy="686.3" r="3.2"/>
<circle class="f" cx="199.4" cy="686.3" r="3.2"/>
<circle class="o" cx="205.6" cy="686.3" r="3.2"/>
<circle class="o" cx="211.9" cy="686.3" r="3.2"/>
<circle class="o" cx="216.2" cy="686.3" r="3.2"/>
<circle class="f" cx="222.5" cy="686.3" r="3.2"/>
<circle class="f" cx="224.5" cy="686.3" r="3.2"/>
<circle class="f" cx="226" cy="686.3" r="3.2"/>
<circle class="o" cx="233.5" cy="686.3" r="3.2"/>
<circle class="o" cx="235.6" cy="686.3" r="3.2"/>
<circle class="o" cx="238.8" cy="686.3" r="3.2"/>
<circle class="f" cx="250.2" cy="686.3" r="3.2"/>
<circle class="f" cx="254" cy="686.3" r="3.2"/>
<circle class="o" cx="262" cy="686.3" r="3.2"/>
<circle class="o" cx="265.6" cy="686.3" r="3.2"/>
<circle class="f" cx="278.1" cy="686.3" r="3.2"/>
<circle class="f" cx="281.9" cy="686.3" r="3.2"/>
<circle class="o" cx="290" cy="686.3" r="3.2"/>
<circle class="o" cx="293.1" cy="686.3" r="3.2"/>
<circle class="o" cx="296.9" cy="686.3" r="3.2"/>
<circle class="f" cx="300.6" cy="686.3" r="3.2"/>
<circle class="f" cx="303.1" cy="686.3" r="3.2"/>
<circle class="o" cx="310" cy="686.3" r="3.2"/>
<circle class="o" cx="313.1" cy="686.3" r="3.2"/>
<circle class="o" cx="317.5" cy="686.3" r="3.2"/>
<circle class="f" cx="326.9" cy="686.3" r="3.2"/>
<circle class="f" cx="330.6" cy="686.3" r="3.2"/>
<circle class="f" cx="333.8" cy="686.3" r="3.2"/>
<circle class="o" cx="338.8" cy="686.3" r="3.2"/>
<circle class="o" cx="343.3" cy="686.3" r="3.2"/>
<circle class="o" cx="348.2" cy="686.3" r="3.2"/>
<circle class="f" cx="355" cy="686.3" r="3.2"/>
<circle class="o" cx="361.5" cy="686.3" r="3.2"/>
<circle class="o" cx="362.8" cy="686.3" r="3.2"/>
<circle class="o" cx="365.2" cy="686.3" r="3.2"/>
<circle class="f" cx="371" cy="686.3" r="3.2"/>
<circle class="f" cx="374.6" cy="686.3" r="3.2"/>
<circle class="o" cx="377.5" cy="686.3" r="3.2"/>
<circle class="o" cx="379.2" cy="686.3" r="3.2"/>
<circle class="o" cx="383.1" cy="686.3" r="3.2"/>
<circle class="f" cx="386.7" cy="686.3" r="3.2"/>
<circle class="f" cx="386.9" cy="686.3" r="3.2"/>
<circle class="f" cx="390.9" cy="686.3" r="3.2"/>
<circle class="o" cx="395.2" cy="686.3" r="3.2"/>
<circle class="f" cx="396.6" cy="686.3" r="3.2"/>
<circle class="o" cx="399" cy="686.3" r="3.2"/>
<circle class="f" cx="400.6" cy="686.3" r="3.2"/>
<circle class="o" cx="403.5" cy="686.3" r="3.2"/>
<circle class="f" cx="407.5" cy="686.3" r="3.2"/>
<circle class="o" cx="408.6" cy="686.3" r="3.2"/>
<circle class="f" cx="411.2" cy="686.3" r="3.2"/>
<circle class="o" cx="414.6" cy="686.3" r="3.2"/>
<circle class="f" cx="416.9" cy="686.3" r="3.2"/>
<circle class="o" cx="420" cy="686.3" r="3.2"/>
<circle class="f" cx="422.8" cy="686.3" r="3.2"/>
<circle class="o" cx="425.2" cy="686.3" r="3.2"/>
<circle class="f" cx="426.5" cy="686.3" r="3.2"/>
<circle class="o" cx="428.7" cy="686.3" r="3.2"/>
<circle class="f" cx="431.5" cy="686.3" r="3.2"/>
<circle class="f" cx="436" cy="686.3" r="3.2"/>
<circle class="o" cx="437.5" cy="686.3" r="3.2"/>
<circle class="o" cx="441" cy="686.3" r="3.2"/>
<circle class="f" cx="446.6" cy="686.3" r="3.2"/>
<circle class="o" cx="448" cy="686.3" r="3.2"/>
<circle class="f" cx="454.4" cy="686.3" r="3.2"/>
<circle class="f" cx="460" cy="686.3" r="3.2"/>
<circle class="o" cx="463.8" cy="686.3" r="3.2"/>
<circle class="f" cx="464.4" cy="686.3" r="3.2"/>
<circle class="f" cx="469.7" cy="686.3" r="3.2"/>
<circle class="o" cx="471" cy="686.3" r="3.2"/>
<circle class="f" cx="475" cy="686.3" r="3.2"/>
<circle class="o" cx="476.3" cy="686.3" r="3.2"/>
<circle class="o" cx="481" cy="686.3" r="3.2"/>
<circle class="f" cx="483" cy="686.3" r="3.2"/>
<circle class="o" cx="486.2" cy="686.3" r="3.2"/>
<circle class="o" cx="490" cy="686.3" r="3.2"/>
<circle class="f" cx="490.6" cy="686.3" r="3.2"/>
<circle class="o" cx="494.5" cy="686.3" r="3.2"/>
<circle class="f" cx="498.2" cy="686.3" r="3.2"/>
<circle class="o" cx="501.6" cy="686.3" r="3.2"/>
<circle class="f" cx="505.3" cy="686.3" r="3.2"/>
<circle class="o" cx="506" cy="686.3" r="3.2"/>
<circle class="o" cx="509.5" cy="686.3" r="3.2"/>
<circle class="f" cx="514" cy="686.3" r="3.2"/>
<circle class="o" cx="517.3" cy="686.3" r="3.2"/>
<circle class="f" cx="520" cy="686.3" r="3.2"/>
<circle class="o" cx="522.2" cy="686.3" r="3.2"/>
<circle class="f" cx="524.9" cy="686.3" r="3.2"/>
<circle class="o" cx="525.6" cy="686.3" r="3.2"/>
<circle class="f" cx="528.6" cy="686.3" r="3.2"/>
<circle class="f" cx="530.5" cy="686.3" r="3.2"/>
<circle class="o" cx="535" cy="686.3" r="3.2"/>
<circle class="o" cx="540" cy="686.3" r="3.2"/>
<circle class="f" cx="543.2" cy="686.3" r="3.2"/>
<circle class="f" cx="545.4" cy="686.3" r="3.2"/>
<circle class="f" cx="550.7" cy="686.3" r="3.2"/>
<circle class="o" cx="557.5" cy="686.3" r="3.2"/>
<circle class="o" cx="561.2" cy="686.3" r="3.2"/>
<circle class="o" cx="564" cy="686.3" r="3.2"/>
<circle class="f" cx="570.2" cy="686.3" r="3.2"/>
<circle class="f" cx="571.7" cy="686.3" r="3.2"/>
<circle class="o" cx="575.5" cy="686.3" r="3.2"/>
<circle class="o" cx="578.9" cy="686.3" r="3.2"/>
<circle class="o" cx="581" cy="686.3" r="3.2"/>
<circle class="f" cx="586.4" cy="686.3" r="3.2"/>
<circle class="f" cx="586.6" cy="686.3" r="3.2"/>
<circle class="o" cx="593.8" cy="686.3" r="3.2"/>
<circle class="o" cx="595.2" cy="686.3" r="3.2"/>
<circle class="o" cx="597" cy="686.3" r="3.2"/>
<circle class="f" cx="604.2" cy="686.3" r="3.2"/>
<circle class="f" cx="606.2" cy="686.3" r="3.2"/>
<circle class="f" cx="607.6" cy="686.3" r="3.2"/>
<circle class="o" cx="619.5" cy="686.3" r="3.2"/>
<circle class="o" cx="621.6" cy="686.3" r="3.2"/>
<circle class="o" cx="623.7" cy="686.3" r="3.2"/>
<circle class="f" cx="636.4" cy="686.3" r="3.2"/>
<circle class="f" cx="637.5" cy="686.3" r="3.2"/>
<circle class="o" cx="648.8" cy="686.3" r="3.2"/>
<circle class="o" cx="652.4" cy="686.3" r="3.2"/>
<circle class="o" cx="655" cy="686.3" r="3.2"/>
<circle class="f" cx="663.1" cy="686.3" r="3.2"/>
<circle class="f" cx="669.8" cy="686.3" r="3.2"/>
<circle class="f" cx="673" cy="686.3" r="3.2"/>
<circle class="o" cx="682.3" cy="686.3" r="3.2"/>
<circle class="o" cx="683.8" cy="686.3" r="3.2"/>
<circle class="o" cx="685.6" cy="686.3" r="3.2"/>
<circle class="f" cx="695.3" cy="686.3" r="3.2"/>
<circle class="f" cx="699.8" cy="686.3" r="3.2"/>
<circle class="o" cx="708.6" cy="686.3" r="3.2"/>
<circle class="o" cx="711.5" cy="686.3" r="3.2"/>
<circle class="o" cx="714" cy="686.3" r="3.2"/>
<circle class="f" cx="725.2" cy="686.3" r="3.2"/>
<circle class="f" cx="728.8" cy="686.3" r="3.2"/>
<circle class="o" cx="735.6" cy="686.3" r="3.2"/>
<circle class="o" cx="740" cy="686.3" r="3.2"/>
<circle class="o" cx="742.4" cy="686.3" r="3.2"/>
<circle class="f" cx="746.8" cy="686.3" r="3.2"/>
<circle class="o" cx="755.7" cy="686.3" r="3.2"/>
<circle class="o" cx="757.4" cy="686.3" r="3.2"/>
<circle class="o" cx="759.9" cy="686.3" r="3.2"/>
<circle class="f" cx="765.7" cy="686.3" r="3.2"/>
<circle class="f" cx="767.5" cy="686.3" r="3.2"/>
<circle class="f" cx="770.7" cy="686.3" r="3.2"/>
<circle class="f" cx="773.2" cy="686.3" r="3.2"/>
<circle class="f" cx="777.5" cy="686.3" r="3.2"/>
<circle class="f" cx="778.6" cy="686.3" r="3.2"/>
<circle class="f" cx="781.4" cy="686.3" r="3.2"/>
<circle class="o" cx="785" cy="686.3" r="3.2"/>
<circle class="o" cx="787" cy="686.3" r="3.2"/>
<circle class="o" cx="790" cy="686.3" r="3.2"/>
<circle class="f" cx="792.7" cy="686.3" r="3.2"/>
<circle class="f" cx="802.1" cy="686.3" r="3.2"/>
<circle class="o" cx="811.8" cy="686.3" r="3.2"/>
<circle class="o" cx="814.7" cy="686.3" r="3.2"/>
<circle class="f" cx="831.2" cy="686.3" r="3.2"/>
<circle class="f" cx="836.2" cy="686.3" r="3.2"/>
<circle class="o" cx="843.8" cy="686.3" r="3.2"/>
<circle class="o" cx="846.9" cy="686.3" r="3.2"/>
<circle class="f" cx="853.8" cy="686.3" r="3.2"/>
<circle class="f" cx="857.5" cy="686.3" r="3.2"/>
<circle class="o" cx="869.2" cy="686.3" r="3.2"/>
<circle class="o" cx="873.8" cy="686.3" r="3.2"/>
<circle class="o" cx="875.6" cy="686.3" r="3.2"/>
<circle class="f" cx="885.6" cy="686.3" r="3.2"/>
<circle class="f" cx="890" cy="686.3" r="3.2"/>
<circle class="o" cx="897.5" cy="686.3" r="3.2"/>
<circle class="o" cx="900" cy="686.3" r="3.2"/>
<circle class="f" cx="908.1" cy="686.3" r="3.2"/>
<circle class="f" cx="910.6" cy="686.3" r="3.2"/>
<circle class="o" cx="918.1" cy="686.3" r="3.2"/>
<circle class="o" cx="920" cy="686.3" r="3.2"/>
<circle class="o" cx="922.1" cy="686.3" r="3.2"/>
<circle class="f" cx="929.2" cy="686.3" r="3.2"/>
<circle class="f" cx="931" cy="686.3" r="3.2"/>
<circle class="f" cx="935" cy="686.3" r="3.2"/>
<circle class="o" cx="936.2" cy="686.3" r="3.2"/>
<circle class="o" cx="941.9" cy="686.3" r="3.2"/>
<circle class="f" cx="951.9" cy="686.3" r="3.2"/>
<circle class="o" cx="956.2" cy="686.3" r="3.2"/>
<circle class="f" cx="960" cy="686.3" r="3.2"/>
<circle class="o" cx="963.8" cy="686.3" r="3.2"/>
<circle class="f" cx="967.5" cy="686.3" r="3.2"/>
<circle class="o" cx="970" cy="686.3" r="3.2"/>
<circle class="o" cx="973.8" cy="686.3" r="3.2"/>
<circle class="f" cx="977.5" cy="686.3" r="3.2"/>
<circle class="o" cx="986.2" cy="686.3" r="3.2"/>
<circle class="o" cx="992.5" cy="686.3" r="3.2"/>
<circle class="o" cx="994.4" cy="686.3" r="3.2"/>
<circle class="f" cx="1005.6" cy="686.3" r="3.2"/>
<circle class="f" cx="1009.4" cy="686.3" r="3.2"/>
<circle class="f" cx="1012.2" cy="686.3" r="3.2"/>
<circle class="f" cx="1015" cy="686.3" r="3.2"/>
<circle class="o" cx="1022.5" cy="686.3" r="3.2"/>
<circle class="o" cx="1025.6" cy="686.3" r="3.2"/>
<circle class="f" cx="1039.4" cy="686.3" r="3.2"/>
<circle class="f" cx="1043.1" cy="686.3" r="3.2"/>
<circle class="o" cx="1055.5" cy="686.3" r="3.2"/>
<circle class="o" cx="1060.1" cy="686.3" r="3.2"/>
<circle class="o" cx="1065" cy="686.3" r="3.2"/>
<circle class="f" cx="1072" cy="686.3" r="3.2"/>
<circle class="f" cx="1075.5" cy="686.3" r="3.2"/>
<circle class="o" cx="1080" cy="686.3" r="3.2"/>
<circle class="o" cx="1084.2" cy="686.3" r="3.2"/>
<circle class="f" cx="1087" cy="686.3" r="3.2"/>
<circle class="f" cx="1090.5" cy="686.3" r="3.2"/>
<circle class="o" cx="1095.5" cy="686.3" r="3.2"/>
<circle class="o" cx="1098.6" cy="686.3" r="3.2"/>
<circle class="o" cx="1103.2" cy="686.3" r="3.2"/>
<circle class="f" cx="1106.8" cy="686.3" r="3.2"/>
<circle class="o" cx="1110" cy="686.3" r="3.2"/>
<circle class="f" cx="1118.7" cy="686.3" r="3.2"/>
<circle class="f" cx="1122" cy="686.3" r="3.2"/>
<circle class="f" cx="1125.7" cy="686.3" r="3.2"/>
<circle class="o" cx="1131.4" cy="686.3" r="3.2"/>
<circle class="o" cx="1135" cy="686.3" r="3.2"/>
<circle class="o" cx="1137.8" cy="686.3" r="3.2"/>
<circle class="f" cx="1143.9" cy="686.3" r="3.2"/>
<circle class="f" cx="1145.5" cy="686.3" r="3.2"/>
<circle class="f" cx="1147.7" cy="686.3" r="3.2"/>
<circle class="o" cx="1156.5" cy="686.3" r="3.2"/>
<circle class="o" cx="1158.1" cy="686.3" r="3.2"/>
<circle class="f" cx="1168" cy="686.3" r="3.2"/>
<circle class="f" cx="1170.7" cy="686.3" r="3.2"/>
<circle class="f" cx="1173.1" cy="686.3" r="3.2"/>
<circle class="o" cx="1182.8" cy="686.3" r="3.2"/>
<circle class="f" cx="1186.1" cy="686.3" r="3.2"/>
<circle class="f" cx="1189" cy="686.3" r="3.2"/>
<circle class="f" cx="1191" cy="686.3" r="3.2"/>
<circle class="o" cx="1195" cy="686.3" r="3.2"/>
<circle class="o" cx="1196.7" cy="686.3" r="3.2"/>
<circle class="f" cx="1199.1" cy="686.3" r="3.2"/>
<circle class="o" cx="1203.1" cy="686.3" r="3.2"/>
<circle class="f" cx="1205.6" cy="686.3" r="3.2"/>
</g>
<text class="x" transform="translate(143.7 714.5) rotate(-90) scale(0.927 1)" text-anchor="middle">G150</text>
<text class="x" transform="translate(153.7 658) rotate(-90) scale(0.927 1)" text-anchor="middle">G135</text>
<text class="x" transform="translate(159.2 714.5) rotate(-90) scale(0.927 1)" text-anchor="middle">G180</text>
<text class="x" transform="translate(171.7 658) rotate(-90) scale(0.927 1)" text-anchor="middle">H2O2</text>
<text class="x" transform="translate(179.4 714.5) rotate(-90) scale(0.927 1)" text-anchor="middle">Paraq</text>
<text class="x" transform="translate(188.2 658) rotate(-90) scale(0.927 1)" text-anchor="middle">Oxctl</text>
<text class="x" transform="translate(198.2 714.5) rotate(-90) scale(0.927 1)" text-anchor="middle">LBGexp</text>
<text class="x" transform="translate(211.2 658) rotate(-90) scale(0.927 1)" text-anchor="middle">dia15</text>
<text class="x" transform="translate(226.9 714.5) rotate(-90) scale(0.927 1)" text-anchor="middle">Diami</text>
<text class="x" transform="translate(238.7 658) rotate(-90) scale(0.927 1)" text-anchor="middle">dia5</text>
<text class="x" transform="translate(254.9 714.5) rotate(-90) scale(0.927 1)" text-anchor="middle">C90</text>
<text class="x" transform="translate(267.9 658) rotate(-90) scale(0.927 1)" text-anchor="middle">C30</text>
<text class="x" transform="translate(282.4 714.5) rotate(-90) scale(0.927 1)" text-anchor="middle">Cold</text>
<text class="x" transform="translate(296.9 658) rotate(-90) scale(0.927 1)" text-anchor="middle">LPh</text>
<text class="x" transform="translate(304.4 714.5) rotate(-90) scale(0.927 1)" text-anchor="middle">HPh</text>
<text class="x" transform="translate(314.9 658) rotate(-90) scale(0.927 1)" text-anchor="middle">aero</text>
<text class="x" transform="translate(332.9 714.5) rotate(-90) scale(0.927 1)" text-anchor="middle">nit</text>
<text class="x" transform="translate(343.6 658) rotate(-90) scale(0.927 1)" text-anchor="middle">ferm</text>
<text class="x" transform="translate(361.1 714.5) rotate(-90) scale(0.927 1)" text-anchor="middle">GM+150</text>
<text class="x" transform="translate(366.6 658) rotate(-90) scale(0.927 1)" text-anchor="middle">M9−tran</text>
<text class="x" transform="translate(375.6 714.5) rotate(-90) scale(0.927 1)" text-anchor="middle">MG+150</text>
<text class="x" transform="translate(383.1 658) rotate(-90) scale(0.927 1)" text-anchor="middle">MG+120</text>
<text class="x" transform="translate(390.9 714.5) rotate(-90) scale(0.927 1)" text-anchor="middle">MG+90</text>
<text class="x" transform="translate(394.9 714.5) rotate(-90) scale(0.927 1)" text-anchor="middle">MG+45</text>
<text class="x" transform="translate(398.9 714.5) rotate(-90) scale(0.927 1)" text-anchor="middle">MG+15</text>
<text class="x" transform="translate(402.9 714.5) rotate(-90) scale(0.927 1)" text-anchor="middle">MG+5</text>
<text class="x" transform="translate(406.9 714.5) rotate(-90) scale(0.927 1)" text-anchor="middle">MG+45</text>
<text class="x" transform="translate(410.9 714.5) rotate(-90) scale(0.927 1)" text-anchor="middle">MG+25</text>
<text class="x" transform="translate(414.9 714.5) rotate(-90) scale(0.927 1)" text-anchor="middle">MG+5</text>
<text class="x" transform="translate(418.9 714.5) rotate(-90) scale(0.927 1)" text-anchor="middle">MG+90</text>
<text class="x" transform="translate(422.9 714.5) rotate(-90) scale(0.927 1)" text-anchor="middle">MG+45</text>
<text class="x" transform="translate(426.9 714.5) rotate(-90) scale(0.927 1)" text-anchor="middle">MG+15</text>
<text class="x" transform="translate(430.9 714.5) rotate(-90) scale(0.927 1)" text-anchor="middle">MG+5</text>
<text class="x" transform="translate(434.9 714.5) rotate(-90) scale(0.927 1)" text-anchor="middle">MG+45</text>
<text class="x" transform="translate(396.4 658) rotate(-90) scale(0.927 1)" text-anchor="middle">MG+60</text>
<text class="x" transform="translate(400.4 658) rotate(-90) scale(0.927 1)" text-anchor="middle">MG+25</text>
<text class="x" transform="translate(404.4 658) rotate(-90) scale(0.927 1)" text-anchor="middle">MG+10</text>
<text class="x" transform="translate(408.4 658) rotate(-90) scale(0.927 1)" text-anchor="middle">MG+t5</text>
<text class="x" transform="translate(412.4 658) rotate(-90) scale(0.927 1)" text-anchor="middle">MG+45</text>
<text class="x" transform="translate(416.4 658) rotate(-90) scale(0.927 1)" text-anchor="middle">MG+10</text>
<text class="x" transform="translate(420.4 658) rotate(-90) scale(0.927 1)" text-anchor="middle">MG+t5</text>
<text class="x" transform="translate(424.4 658) rotate(-90) scale(0.927 1)" text-anchor="middle">MG+60</text>
<text class="x" transform="translate(428.4 658) rotate(-90) scale(0.927 1)" text-anchor="middle">MG+25</text>
<text class="x" transform="translate(432.4 658) rotate(-90) scale(0.927 1)" text-anchor="middle">MG+10</text>
<text class="x" transform="translate(436.4 658) rotate(-90) scale(0.927 1)" text-anchor="middle">MG+t5</text>
<text class="x" transform="translate(442.9 714.5) rotate(-90) scale(0.927 1)" text-anchor="middle">MG−0.1</text>
<text class="x" transform="translate(446.4 658) rotate(-90) scale(0.927 1)" text-anchor="middle">MG−0.2</text>
<text class="x" transform="translate(450.4 714.5) rotate(-90) scale(0.927 1)" text-anchor="middle">M+G</text>
<text class="x" transform="translate(454.9 658) rotate(-90) scale(0.927 1)" text-anchor="middle">Fru</text>
<text class="x" transform="translate(459.9 714.5) rotate(-90) scale(0.927 1)" text-anchor="middle">Glucon</text>
<text class="x" transform="translate(465.4 658) rotate(-90) scale(0.927 1)" text-anchor="middle">GM−0.2</text>
<text class="x" transform="translate(468.9 714.5) rotate(-90) scale(0.927 1)" text-anchor="middle">GM−0.1</text>
<text class="x" transform="translate(471.9 714.5) rotate(-90) scale(0.927 1)" text-anchor="middle">GM−0.1</text>
<text class="x" transform="translate(474.9 658) rotate(-90) scale(0.927 1)" text-anchor="middle">GM+5</text>
<text class="x" transform="translate(478.9 658) rotate(-90) scale(0.927 1)" text-anchor="middle">GM+15</text>
<text class="x" transform="translate(482.9 658) rotate(-90) scale(0.927 1)" text-anchor="middle">GM+45</text>
<text class="x" transform="translate(486.9 658) rotate(-90) scale(0.927 1)" text-anchor="middle">GM+25</text>
<text class="x" transform="translate(490.9 658) rotate(-90) scale(0.927 1)" text-anchor="middle">GM+10</text>
<text class="x" transform="translate(494.9 658) rotate(-90) scale(0.927 1)" text-anchor="middle">GM+15</text>
<text class="x" transform="translate(498.9 658) rotate(-90) scale(0.927 1)" text-anchor="middle">GM+60</text>
<text class="x" transform="translate(502.9 658) rotate(-90) scale(0.927 1)" text-anchor="middle">GM+25</text>
<text class="x" transform="translate(508.9 658) rotate(-90) scale(0.927 1)" text-anchor="middle">GM+90</text>
<text class="x" transform="translate(512.9 658) rotate(-90) scale(0.927 1)" text-anchor="middle">GM+150</text>
<text class="x" transform="translate(520.9 658) rotate(-90) scale(0.927 1)" text-anchor="middle">GM+60</text>
<text class="x" transform="translate(524.9 658) rotate(-90) scale(0.927 1)" text-anchor="middle">GM+90</text>
<text class="x" transform="translate(528.9 658) rotate(-90) scale(0.927 1)" text-anchor="middle">GM+60</text>
<text class="x" transform="translate(532.9 658) rotate(-90) scale(0.927 1)" text-anchor="middle">GM+45</text>
<text class="x" transform="translate(535.4 658) rotate(-90) scale(0.927 1)" text-anchor="middle">GM+25</text>
<text class="x" transform="translate(476.4 714.5) rotate(-90) scale(0.927 1)" text-anchor="middle">GM+10</text>
<text class="x" transform="translate(480.4 714.5) rotate(-90) scale(0.927 1)" text-anchor="middle">GM+25</text>
<text class="x" transform="translate(484.4 714.5) rotate(-90) scale(0.927 1)" text-anchor="middle">GM+60</text>
<text class="x" transform="translate(488.4 714.5) rotate(-90) scale(0.927 1)" text-anchor="middle">GM+45</text>
<text class="x" transform="translate(492.4 714.5) rotate(-90) scale(0.927 1)" text-anchor="middle">GM+10</text>
<text class="x" transform="translate(496.4 714.5) rotate(-90) scale(0.927 1)" text-anchor="middle">GM+15</text>
<text class="x" transform="translate(500.4 714.5) rotate(-90) scale(0.927 1)" text-anchor="middle">GM+90</text>
<text class="x" transform="translate(504.4 714.5) rotate(-90) scale(0.927 1)" text-anchor="middle">GM+120</text>
<text class="x" transform="translate(508.4 714.5) rotate(-90) scale(0.927 1)" text-anchor="middle">GM+150</text>
<text class="x" transform="translate(512.4 714.5) rotate(-90) scale(0.927 1)" text-anchor="middle">GM+150</text>
<text class="x" transform="translate(518.9 714.5) rotate(-90) scale(0.927 1)" text-anchor="middle">GM+90</text>
<text class="x" transform="translate(522.9 714.5) rotate(-90) scale(0.927 1)" text-anchor="middle">GM+45</text>
<text class="x" transform="translate(526.9 714.5) rotate(-90) scale(0.927 1)" text-anchor="middle">GM+25</text>
<text class="x" transform="translate(530.9 714.5) rotate(-90) scale(0.927 1)" text-anchor="middle">GM+45</text>
<text class="x" transform="translate(534.4 714.5) rotate(-90) scale(0.927 1)" text-anchor="middle">GM+5</text>
<text class="x" transform="translate(540.9 658) rotate(-90) scale(0.927 1)" text-anchor="middle">M9−exp</text>
<text class="x" transform="translate(548.6 714.5) rotate(-90) scale(0.927 1)" text-anchor="middle">M/G</text>
<text class="x" transform="translate(562.4 658) rotate(-90) scale(0.927 1)" text-anchor="middle">Mal</text>
<text class="x" transform="translate(575.4 714.5) rotate(-90) scale(0.927 1)" text-anchor="middle">Fru</text>
<text class="x" transform="translate(581.6 658) rotate(-90) scale(0.927 1)" text-anchor="middle">Glu</text>
<text class="x" transform="translate(590.4 714.5) rotate(-90) scale(0.927 1)" text-anchor="middle">SMM</text>
<text class="x" transform="translate(598.6 658) rotate(-90) scale(0.927 1)" text-anchor="middle">BMM</text>
<text class="x" transform="translate(609.4 714.5) rotate(-90) scale(0.927 1)" text-anchor="middle">Heat</text>
<text class="x" transform="translate(624.9 658) rotate(-90) scale(0.927 1)" text-anchor="middle">Etha</text>
<text class="x" transform="translate(640.4 714.5) rotate(-90) scale(0.927 1)" text-anchor="middle">Salt</text>
<text class="x" transform="translate(653.6 658) rotate(-90) scale(0.927 1)" text-anchor="middle">Gly</text>
<text class="x" transform="translate(668.1 714.5) rotate(-90) scale(0.927 1)" text-anchor="middle">HiTm</text>
<text class="x" transform="translate(687.4 658) rotate(-90) scale(0.927 1)" text-anchor="middle">HiOs</text>
<text class="x" transform="translate(700.6 714.5) rotate(-90) scale(0.927 1)" text-anchor="middle">S1</text>
<text class="x" transform="translate(713.6 658) rotate(-90) scale(0.927 1)" text-anchor="middle">S2</text>
<text class="x" transform="translate(730.4 714.5) rotate(-90) scale(0.927 1)" text-anchor="middle">S3</text>
<text class="x" transform="translate(742.4 658) rotate(-90) scale(0.927 1)" text-anchor="middle">S4</text>
<text class="x" transform="translate(752.9 714.5) rotate(-90) scale(0.927 1)" text-anchor="middle">S3</text>
<text class="x" transform="translate(760.6 658) rotate(-90) scale(0.927 1)" text-anchor="middle">S5</text>
<text class="x" transform="translate(771.1 714.5) rotate(-90) scale(0.927 1)" text-anchor="middle">S6</text>
<text class="x" transform="translate(789.9 658) rotate(-90) scale(0.927 1)" text-anchor="middle">S7</text>
<text class="x" transform="translate(797.9 714.5) rotate(-90) scale(0.927 1)" text-anchor="middle">S8</text>
<text class="x" transform="translate(816.9 658) rotate(-90) scale(0.927 1)" text-anchor="middle">S6</text>
<text class="x" transform="translate(837.4 714.5) rotate(-90) scale(0.927 1)" text-anchor="middle">BT</text>
<text class="x" transform="translate(849.4 658) rotate(-90) scale(0.927 1)" text-anchor="middle">B36</text>
<text class="x" transform="translate(857.9 714.5) rotate(-90) scale(0.927 1)" text-anchor="middle">B60</text>
<text class="x" transform="translate(874.9 658) rotate(-90) scale(0.927 1)" text-anchor="middle">LoTm</text>
<text class="x" transform="translate(889.3 714.5) rotate(-90) scale(0.927 1)" text-anchor="middle">Pyr</text>
<text class="x" transform="translate(901.9 658) rotate(-90) scale(0.927 1)" text-anchor="middle">G/S</text>
<text class="x" transform="translate(912.9 714.5) rotate(-90) scale(0.927 1)" text-anchor="middle">Glucon</text>
<text class="x" transform="translate(922.9 658) rotate(-90) scale(0.927 1)" text-anchor="middle">SMMPr</text>
<text class="x" transform="translate(933.4 658) rotate(-90) scale(0.927 1)" text-anchor="middle">T−4.40H</text>
<text class="x" transform="translate(938.6 658) rotate(-90) scale(0.927 1)" text-anchor="middle">T−2.40H</text>
<text class="x" transform="translate(943.1 658) rotate(-90) scale(0.927 1)" text-anchor="middle">T−0.40H</text>
<text class="x" transform="translate(947.6 658) rotate(-90) scale(0.927 1)" text-anchor="middle">T0.0H</text>
<text class="x" transform="translate(931.9 714.5) rotate(-90) scale(0.927 1)" text-anchor="middle">T−5.40H</text>
<text class="x" transform="translate(936.9 714.5) rotate(-90) scale(0.927 1)" text-anchor="middle">T−3.40H</text>
<text class="x" transform="translate(942.4 714.5) rotate(-90) scale(0.927 1)" text-anchor="middle">T−1.40H</text>
<text class="x" transform="translate(946.9 714.5) rotate(-90) scale(0.927 1)" text-anchor="middle">T−0.40H</text>
<text class="x" transform="translate(956.6 714.5) rotate(-90) scale(0.927 1)" text-anchor="middle">T0.30H</text>
<text class="x" transform="translate(961.1 658) rotate(-90) scale(0.927 1)" text-anchor="middle">T1.0H</text>
<text class="x" transform="translate(962.6 714.5) rotate(-90) scale(0.927 1)" text-anchor="middle">T1.30H</text>
<text class="x" transform="translate(968.6 658) rotate(-90) scale(0.927 1)" text-anchor="middle">T2.0H</text>
<text class="x" transform="translate(968.6 714.5) rotate(-90) scale(0.927 1)" text-anchor="middle">T2.30H</text>
<text class="x" transform="translate(975.4 658) rotate(-90) scale(0.927 1)" text-anchor="middle">T3.0H</text>
<text class="x" transform="translate(974.6 714.5) rotate(-90) scale(0.927 1)" text-anchor="middle">T3.30H</text>
<text class="x" transform="translate(982.1 658) rotate(-90) scale(0.927 1)" text-anchor="middle">T4.0H</text>
<text class="x" transform="translate(982.9 714.5) rotate(-90) scale(0.927 1)" text-anchor="middle">T5.0H</text>
<text class="x" transform="translate(991.3 658) rotate(-90) scale(0.927 1)" text-anchor="middle">M9−stat</text>
<text class="x" transform="translate(1010.9 714.5) rotate(-90) scale(0.927 1)" text-anchor="middle">BC</text>
<text class="x" transform="translate(1028.4 658) rotate(-90) scale(0.927 1)" text-anchor="middle">Sw</text>
<text class="x" transform="translate(1044.3 714.5) rotate(-90) scale(0.927 1)" text-anchor="middle">LPhT</text>
<text class="x" transform="translate(1061.5 658) rotate(-90) scale(0.927 1)" text-anchor="middle">LBGstat</text>
<text class="x" transform="translate(1077.3 714.5) rotate(-90) scale(0.927 1)" text-anchor="middle">LBGtran</text>
<text class="x" transform="translate(1085.9 658) rotate(-90) scale(0.927 1)" text-anchor="middle">M0t45</text>
<text class="x" transform="translate(1091.9 714.5) rotate(-90) scale(0.927 1)" text-anchor="middle">M40t45</text>
<text class="x" transform="translate(1100.9 658) rotate(-90) scale(0.927 1)" text-anchor="middle">Lbtran</text>
<text class="x" transform="translate(1110.9 714.5) rotate(-90) scale(0.927 1)" text-anchor="middle">Mt0</text>
<text class="x" transform="translate(1114.3 658) rotate(-90) scale(0.927 1)" text-anchor="middle">M40t45</text>
<text class="x" transform="translate(1124.3 714.5) rotate(-90) scale(0.927 1)" text-anchor="middle">M40t90</text>
<text class="x" transform="translate(1137.3 658) rotate(-90) scale(0.927 1)" text-anchor="middle">M0t90</text>
<text class="x" transform="translate(1148.9 714.5) rotate(-90) scale(0.927 1)" text-anchor="middle">Lbstat</text>
<text class="x" transform="translate(1161.9 658) rotate(-90) scale(0.927 1)" text-anchor="middle">BI</text>
<text class="x" transform="translate(1173.3 714.5) rotate(-90) scale(0.927 1)" text-anchor="middle">S0</text>
<text class="x" transform="translate(1187.9 658) rotate(-90) scale(0.927 1)" text-anchor="middle">M0t45</text>
<text class="x" transform="translate(1191.3 714.5) rotate(-90) scale(0.927 1)" text-anchor="middle">dia0</text>
<text class="x" transform="translate(1199.9 658) rotate(-90) scale(0.927 1)" text-anchor="middle">Lbexp</text>
<text class="x" transform="translate(1204.9 714.5) rotate(-90) scale(0.927 1)" text-anchor="middle">Mt0</text>
<text class="x" transform="translate(1207.9 658) rotate(-90) scale(0.927 1)" text-anchor="middle">Lbexp</text>
<text class="x" transform="translate(1209.9 714.5) rotate(-90) scale(0.927 1)" text-anchor="middle">Mt0</text>
<g fill="#00ff00">
<text class="l" transform="translate(887 464.6) scale(0.946 1)">clusters</text>
<text class="l" transform="translate(967.3 500) scale(0.946 1)">A1586 size: 1</text>
<text class="l" transform="translate(967.3 531.6) scale(0.946 1)">B347 size: 2</text>
<text class="l" transform="translate(967.3 563.6) scale(0.946 1)">C70 size: 11</text>
</g>
<path class="g" stroke-width="4.4" stroke-dasharray="0.01 13.33" d="M894.6 490.6H936"/>
<path class="g" stroke-width="4.6" stroke-dasharray="9.6 17.1" d="M894.8 522.5H936"/>
<path class="g" stroke-width="4.8" d="M894.9 554.3H942.3"/>
</svg></body></html>
